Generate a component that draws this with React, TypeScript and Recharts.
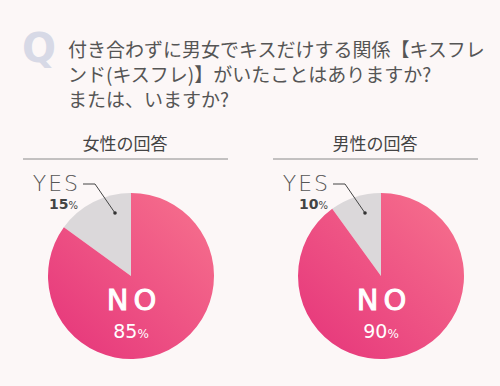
import React from 'react';
import { PieChart, Pie, Cell } from 'recharts';

const categories = ['YES', 'NO'];
const womenValues = [15, 85];
const menValues = [10, 90];
const panelTitles = ['女性の回答', '男性の回答'];
const questionLines = [
  '付き合わずに男女でキスだけする関係【キスフレ',
  'ンド(キスフレ)】がいたことはありますか?',
  'または、いますか?',
];

const womenData = categories.map((name, i) => ({ name, value: womenValues[i] }));
const menData = categories.map((name, i) => ({ name, value: menValues[i] }));

const BG = '#fcf7f7';
const TEXT = '#555555';
const GRAY = '#dbd8da';
const FONT = '"Noto Sans CJK JP", "Noto Sans", sans-serif';
const LATIN = '"DejaVu Sans", "Noto Sans", sans-serif';

const renderLabel = (props: any) => {
  const { cx, cy, name, value } = props;
  if (name === 'YES') {
    const dotX = cx - 16;
    const dotY = cy - 63;
    const lineY = cy - 92;
    const textRight = cx - 53;
    return (
      <g>
        <polyline
          points={`${cx - 48},${lineY} ${cx - 36},${lineY} ${dotX},${dotY}`}
          fill="none"
          stroke="#444"
          strokeWidth={1}
        />
        <circle cx={dotX} cy={dotY} r={1.8} fill="#333" />
        <text x={textRight + 2} y={cy - 85} textAnchor="end" fill={TEXT} fontFamily={LATIN} fontSize={22} fontWeight={300} letterSpacing={2}>
          YES
        </text>
        <text x={textRight} y={cy - 67} textAnchor="end" fill="#444" fontFamily={LATIN} fontSize={14} fontWeight={700}>
          {value}
          <tspan fontSize={10} fontWeight={400}>%</tspan>
        </text>
      </g>
    );
  }
  return (
    <g>
      <text x={cx + 3} y={cy + 34} textAnchor="middle" fill="#ffffff" stroke="#ffffff" strokeWidth={1} fontFamily={LATIN} fontSize={29} fontWeight={400} letterSpacing={5}>
        NO
      </text>
      <text x={cx} y={cy + 62} textAnchor="middle" fill="#ffffff" fontFamily={LATIN} fontSize={19} fontWeight={400}>
        {value}
        <tspan fontSize={12}>%</tspan>
      </text>
    </g>
  );
};

export default function App() {
  return (
    <div style={{ position: 'fixed', left: 0, top: 0, width: 500, height: 386, background: BG, overflow: 'hidden' }}>
      <svg width={500} height={386} style={{ position: 'absolute', left: 0, top: 0 }}>
        <text x={22} y={62} fill="#d7d9e6" fontFamily={LATIN} fontSize={40} fontWeight={700}>
          Q
        </text>
        {questionLines.map((line, i) => (
          <text key={i} x={68} y={57 + i * 25} fill={TEXT} fontFamily={FONT} fontSize={19} fontWeight={400}>
            {line}
          </text>
        ))}
        {panelTitles.map((t, i) => (
          <g key={t}>
            <text x={125 + i * 250} y={150} textAnchor="middle" fill="#444" fontFamily={FONT} fontSize={17}>
              {t}
            </text>
            <line x1={23 + i * 250} x2={228 + i * 250} y1={159} y2={159} stroke="#8a8a8a" strokeWidth={1} />
          </g>
        ))}
      </svg>
      <div style={{ position: 'absolute', left: 0, top: 0 }}>
        <PieChart width={500} height={386}>
          <defs>
            <linearGradient id="pinkGrad" x1="0" y1="1" x2="1" y2="0">
              <stop offset="0%" stopColor="#e5337a" />
              <stop offset="100%" stopColor="#f7738e" />
            </linearGradient>
          </defs>
          <Pie
            data={womenData}
            dataKey="value"
            nameKey="name"
            cx={126}
            cy={271}
            outerRadius={83}
            startAngle={90}
            endAngle={450}
            stroke="none"
            isAnimationActive={false}
            label={renderLabel}
            labelLine={false}
          >
            {womenData.map((d) => (
              <Cell key={d.name} fill={d.name === 'YES' ? GRAY : 'url(#pinkGrad)'} />
            ))}
          </Pie>
          <Pie
            data={menData}
            dataKey="value"
            nameKey="name"
            cx={376}
            cy={271}
            outerRadius={83}
            startAngle={90}
            endAngle={450}
            stroke="none"
            isAnimationActive={false}
            label={renderLabel}
            labelLine={false}
          >
            {menData.map((d) => (
              <Cell key={d.name} fill={d.name === 'YES' ? GRAY : 'url(#pinkGrad)'} />
            ))}
          </Pie>
        </PieChart>
      </div>
    </div>
  );
}
